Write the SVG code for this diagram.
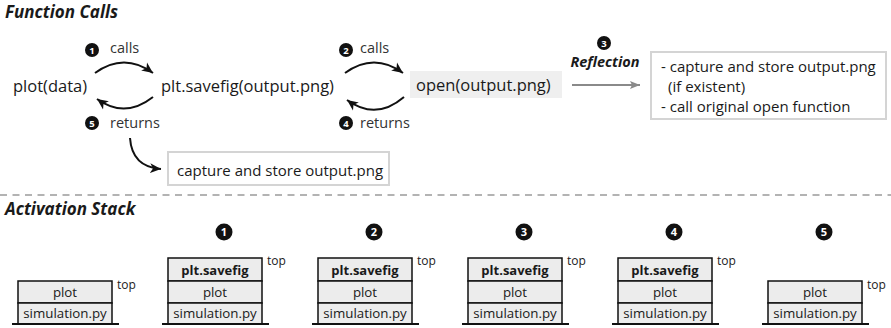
<svg xmlns="http://www.w3.org/2000/svg" width="891" height="328" viewBox="0 0 891 328">
  <defs>
    <marker id="head" markerUnits="userSpaceOnUse" markerWidth="12" markerHeight="11" refX="11" refY="5.5" orient="auto">
      <path d="M0,0.5 L11,5.5 L0,10.5 L3,5.5 Z" fill="#111"/>
    </marker>
    <marker id="headGray" markerUnits="userSpaceOnUse" markerWidth="11" markerHeight="10" refX="10" refY="5" orient="auto">
      <path d="M0,1 L10,5 L0,9 L2,5 Z" fill="#8a8a8a"/>
    </marker>
    <style>
      text { font-family: "Open Sans", "Noto Sans", sans-serif; fill: #1a1a1a; }
      .title { font-size: 17px; font-weight: bold; font-style: italic; }
      .call { font-size: 16.5px; }
      .lbl { font-size: 14.5px; fill: #333; }
      .note { font-size: 15px; }
      .badge circle { fill: #111; }
      .badge text { fill: #fff; font-weight: bold; text-anchor: middle; }
      .frame { fill: #fff; stroke: #d4d4d4; stroke-width: 2; }
      .cell { fill: #ececec; stroke: #111; stroke-width: 1.5; }
      .cellText { font-size: 13.3px; text-anchor: middle; }
      .cellBold { font-size: 13px; font-weight: bold; text-anchor: middle; }
      .top { font-size: 12px; }
      .base { stroke: #111; stroke-width: 2; }
      .arc { fill: none; stroke: #111; stroke-width: 2; marker-end: url(#head); }
    </style>
  </defs>

  <rect width="891" height="328" fill="#fff"/>

  <!-- section headings -->
  <text class="title" x="5" y="18">Function Calls</text>
  <text class="title" x="5" y="215">Activation Stack</text>

  <!-- call chain -->
  <g id="plot-data">
    <text class="call" x="13" y="92">plot(data)</text>
  </g>
  <g id="savefig">
    <text class="call" x="161" y="92">plt.savefig(output.png)</text>
  </g>
  <g id="open">
    <rect x="410" y="71" width="152" height="27" fill="#efefef"/>
    <text class="call" x="416" y="91">open(output.png)</text>
  </g>
  <g id="reflection-box">
    <rect class="frame" x="651" y="52" width="235" height="67"/>
    <text class="note" x="661" y="72">- capture and store output.png</text>
    <text class="note" x="668" y="92">(if existent)</text>
    <text class="note" x="661" y="112">- call original open function</text>
  </g>
  <g id="capture-box">
    <rect class="frame" x="168" y="152" width="221" height="33"/>
    <text class="note" x="177" y="176">capture and store output.png</text>
  </g>

  <!-- step labels -->
  <g id="step1" class="badge">
    <circle cx="92" cy="50" r="7"/>
    <text x="92" y="53.5" font-size="9.5px">1</text>
  </g>
  <text class="lbl" x="110" y="53">calls</text>
  <g id="step5" class="badge">
    <circle cx="92" cy="123" r="7"/>
    <text x="92" y="126.5" font-size="9.5px">5</text>
  </g>
  <text class="lbl" x="110" y="128">returns</text>
  <g id="step2" class="badge">
    <circle cx="346" cy="50" r="7"/>
    <text x="346" y="53.5" font-size="9.5px">2</text>
  </g>
  <text class="lbl" x="360" y="53">calls</text>
  <g id="step4" class="badge">
    <circle cx="346" cy="123" r="7"/>
    <text x="346" y="126.5" font-size="9.5px">4</text>
  </g>
  <text class="lbl" x="360" y="128">returns</text>
  <g id="step3" class="badge">
    <circle cx="604" cy="43" r="7"/>
    <text x="604" y="46.5" font-size="9.5px">3</text>
  </g>
  <text class="title" x="605" y="67" text-anchor="middle" style="font-size:14.5px">Reflection</text>

  <!-- connectors -->
  <g id="connectors">
    <path class="arc" d="M95,73 Q124,52 153,73"/>
    <path class="arc" d="M153,97 Q125,119 97,99"/>
    <path class="arc" d="M345,73 Q374,52 403,73"/>
    <path class="arc" d="M404,97 Q376,121 347,100"/>
    <path class="arc" d="M130,138 Q132,167 161,169"/>
    <line x1="572" y1="85" x2="640" y2="85" stroke="#8a8a8a" stroke-width="2" marker-end="url(#headGray)"/>
  </g>

  <!-- separator -->
  <line x1="0" y1="195" x2="891" y2="195" stroke="#9a9a9a" stroke-width="1.5" stroke-dasharray="7 5.5"/>

  <!-- activation stacks -->
  <g id="stack0">
    <rect class="cell" x="18" y="281" width="94" height="22"/>
    <rect class="cell" x="18" y="303" width="94" height="21"/>
    <text class="cellText" x="65" y="297">plot</text>
    <text class="cellText" x="65" y="318">simulation.py</text>
    <line class="base" x1="12" y1="324" x2="119" y2="324"/>
    <text class="top" x="117" y="289">top</text>
  </g>

  <g id="stack1">
    <g class="badge"><circle cx="224" cy="232" r="8.5"/><text x="224" y="236" font-size="11px">1</text></g>
    <rect class="cell" x="168" y="258" width="94" height="23"/>
    <rect class="cell" x="168" y="281" width="94" height="22"/>
    <rect class="cell" x="168" y="303" width="94" height="21"/>
    <text class="cellBold" x="215" y="275">plt.savefig</text>
    <text class="cellText" x="215" y="297">plot</text>
    <text class="cellText" x="215" y="318">simulation.py</text>
    <line class="base" x1="162" y1="324" x2="269" y2="324"/>
    <text class="top" x="267" y="265">top</text>
  </g>

  <g id="stack2">
    <g class="badge"><circle cx="374" cy="232" r="8.5"/><text x="374" y="236" font-size="11px">2</text></g>
    <rect class="cell" x="318" y="258" width="94" height="23"/>
    <rect class="cell" x="318" y="281" width="94" height="22"/>
    <rect class="cell" x="318" y="303" width="94" height="21"/>
    <text class="cellBold" x="365" y="275">plt.savefig</text>
    <text class="cellText" x="365" y="297">plot</text>
    <text class="cellText" x="365" y="318">simulation.py</text>
    <line class="base" x1="312" y1="324" x2="419" y2="324"/>
    <text class="top" x="417" y="265">top</text>
  </g>

  <g id="stack3">
    <g class="badge"><circle cx="524" cy="232" r="8.5"/><text x="524" y="236" font-size="11px">3</text></g>
    <rect class="cell" x="468" y="258" width="94" height="23"/>
    <rect class="cell" x="468" y="281" width="94" height="22"/>
    <rect class="cell" x="468" y="303" width="94" height="21"/>
    <text class="cellBold" x="515" y="275">plt.savefig</text>
    <text class="cellText" x="515" y="297">plot</text>
    <text class="cellText" x="515" y="318">simulation.py</text>
    <line class="base" x1="462" y1="324" x2="569" y2="324"/>
    <text class="top" x="567" y="265">top</text>
  </g>

  <g id="stack4">
    <g class="badge"><circle cx="674" cy="232" r="8.5"/><text x="674" y="236" font-size="11px">4</text></g>
    <rect class="cell" x="618" y="258" width="94" height="23"/>
    <rect class="cell" x="618" y="281" width="94" height="22"/>
    <rect class="cell" x="618" y="303" width="94" height="21"/>
    <text class="cellBold" x="665" y="275">plt.savefig</text>
    <text class="cellText" x="665" y="297">plot</text>
    <text class="cellText" x="665" y="318">simulation.py</text>
    <line class="base" x1="612" y1="324" x2="719" y2="324"/>
    <text class="top" x="717" y="265">top</text>
  </g>

  <g id="stack5">
    <g class="badge"><circle cx="824" cy="232" r="8.5"/><text x="824" y="236" font-size="11px">5</text></g>
    <rect class="cell" x="768" y="281" width="94" height="22"/>
    <rect class="cell" x="768" y="303" width="94" height="21"/>
    <text class="cellText" x="815" y="297">plot</text>
    <text class="cellText" x="815" y="318">simulation.py</text>
    <line class="base" x1="762" y1="324" x2="869" y2="324"/>
    <text class="top" x="867" y="289">top</text>
  </g>
</svg>
